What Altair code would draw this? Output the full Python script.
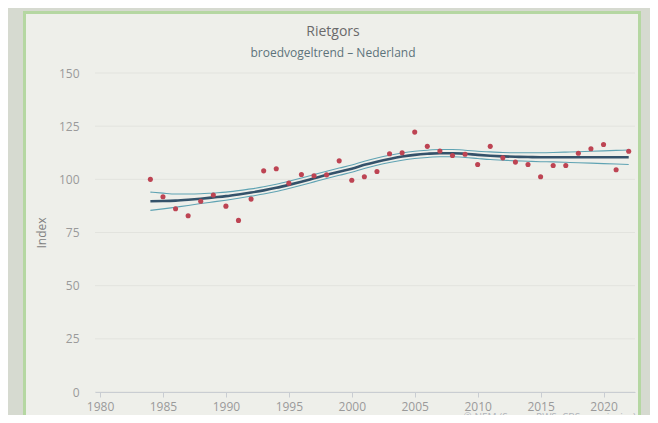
import altair as alt
import pandas as pd

years = list(range(1984, 2023))
index_values = [100.0, 91.8, 86.2, 82.9, 89.7, 92.6, 87.4, 80.7, 90.7, 104.0,
                105.0, 98.2, 102.3, 101.7, 102.1, 108.7, 99.6, 101.2, 103.7, 112.0,
                112.5, 122.2, 115.5, 113.3, 111.2, 111.8, 107.0, 115.5, 110.1, 108.1,
                107.0, 101.2, 106.5, 106.5, 112.3, 114.4, 116.4, 104.5, 113.2]
trend = [89.7, 89.8, 90.0, 90.4, 90.9, 91.5, 92.1, 92.9, 93.8, 94.8,
         96.0, 97.4, 98.9, 100.5, 102.1, 103.6, 105.0, 106.8, 108.3, 109.6,
         110.7, 111.5, 112.0, 112.3, 112.3, 112.0, 111.5, 111.1, 110.8, 110.6,
         110.5, 110.4, 110.4, 110.4, 110.4, 110.4, 110.4, 110.4, 110.4]
upper = [94.0, 93.5, 93.1, 93.1, 93.2, 93.6, 94.0, 94.7, 95.5, 96.5,
         97.7, 99.1, 100.6, 102.2, 103.8, 105.3, 106.7, 108.5, 110.0, 111.3,
         112.4, 113.2, 113.7, 114.0, 114.0, 113.7, 113.2, 112.9, 112.6, 112.5,
         112.5, 112.5, 112.6, 112.8, 113.0, 113.2, 113.4, 113.6, 113.8]
lower = [85.4, 86.1, 86.9, 87.7, 88.6, 89.4, 90.2, 91.1, 92.1, 93.1,
         94.3, 95.7, 97.2, 98.8, 100.4, 101.9, 103.3, 105.1, 106.6, 107.9,
         109.0, 109.8, 110.3, 110.6, 110.6, 110.3, 109.8, 109.3, 109.0, 108.7,
         108.5, 108.3, 108.2, 108.0, 107.8, 107.6, 107.4, 107.2, 107.0]
y_ticks = [0, 25, 50, 75, 100, 125, 150]
x_ticks = [1980, 1985, 1990, 1995, 2000, 2005, 2010, 2015, 2020]

FONT = "Open Sans"
OUTER = "#d6dad0"
PANEL = "#eeefea"
BORDER = "#b5d7a2"

df = pd.DataFrame({"year": years, "index": index_values, "trend": trend,
                   "upper": upper, "lower": lower})
grid_df = pd.DataFrame({"v": y_ticks})

xscale = alt.Scale(domain=[1979.6, 2022.5], nice=False, zero=False)
yscale = alt.Scale(domain=[0, 150], nice=False)

xaxis = alt.Axis(values=x_ticks, format="d", title=None, grid=False,
                 domainColor="#c9cdd2", tickColor="#c9cdd2", tickSize=5,
                 labelPadding=4, labelFontSize=12, labelColor="#9a9a9a",
                 labelFont=FONT, zindex=1)
yaxis = alt.Axis(values=y_ticks, title="Index", grid=False, domain=False, ticks=False,
                 labelPadding=16, labelFontSize=12, labelColor="#9a9a9a", labelFont=FONT,
                 titleFont=FONT, titleFontSize=12, titleFontWeight="normal",
                 titleColor="#808080", titlePadding=10, zindex=1)

panel = alt.Chart(pd.DataFrame({"a": [0]})).mark_rect(
    fill=PANEL, stroke=BORDER, strokeWidth=3, clip=False
).encode(x=alt.value(-70.5), x2=alt.value(544.5), y=alt.value(-60.5), y2=alt.value(360))

grid = alt.Chart(grid_df).mark_rule(color="#e2e3de", strokeWidth=1).encode(
    y=alt.Y("v:Q", scale=yscale, axis=yaxis)
)

base = alt.Chart(df)
up = base.mark_line(color="#5fa3b3", strokeWidth=1.1, interpolate="monotone").encode(
    x=alt.X("year:Q", scale=xscale, axis=xaxis), y=alt.Y("upper:Q", scale=yscale))
lo = base.mark_line(color="#5fa3b3", strokeWidth=1.1, interpolate="monotone").encode(
    x=alt.X("year:Q", scale=xscale), y=alt.Y("lower:Q", scale=yscale))
tr = base.mark_line(color="#34526a", strokeWidth=2.6, interpolate="monotone").encode(
    x=alt.X("year:Q", scale=xscale), y=alt.Y("trend:Q", scale=yscale))
pts = base.mark_circle(color="#bd4453", size=26, opacity=1).encode(
    x=alt.X("year:Q", scale=xscale), y=alt.Y("index:Q", scale=yscale))

credit = alt.Chart(pd.DataFrame({"t": ["© NEM (Sovon, RWS, CBS, provincies)"]})).mark_text(
    align="right", baseline="top", fontSize=10, font=FONT, color="#b0b4bb"
).encode(x=alt.value(541), y=alt.value(340), text="t:N")

chart = alt.layer(panel, grid, up, lo, tr, pts, credit).properties(
    width=540, height=319,
    padding={"left": 87, "top": 65, "right": 15, "bottom": 23},
    autosize=alt.AutoSizeParams(type="none"),
    background=OUTER,
    title=alt.TitleParams(text="Rietgors", subtitle="broedvogeltrend – Nederland",
                          font=FONT, fontSize=14, fontWeight="normal", color="#6a6a6a",
                          subtitleFont=FONT, subtitleFontSize=12, subtitleColor="#5d737b",
                          subtitlePadding=9, anchor="middle", frame="group",
                          dx=-32, offset=-48, zindex=1)
).configure_view(stroke=None)

chart.save("out.html", embed_options={"renderer": "svg", "actions": False})
